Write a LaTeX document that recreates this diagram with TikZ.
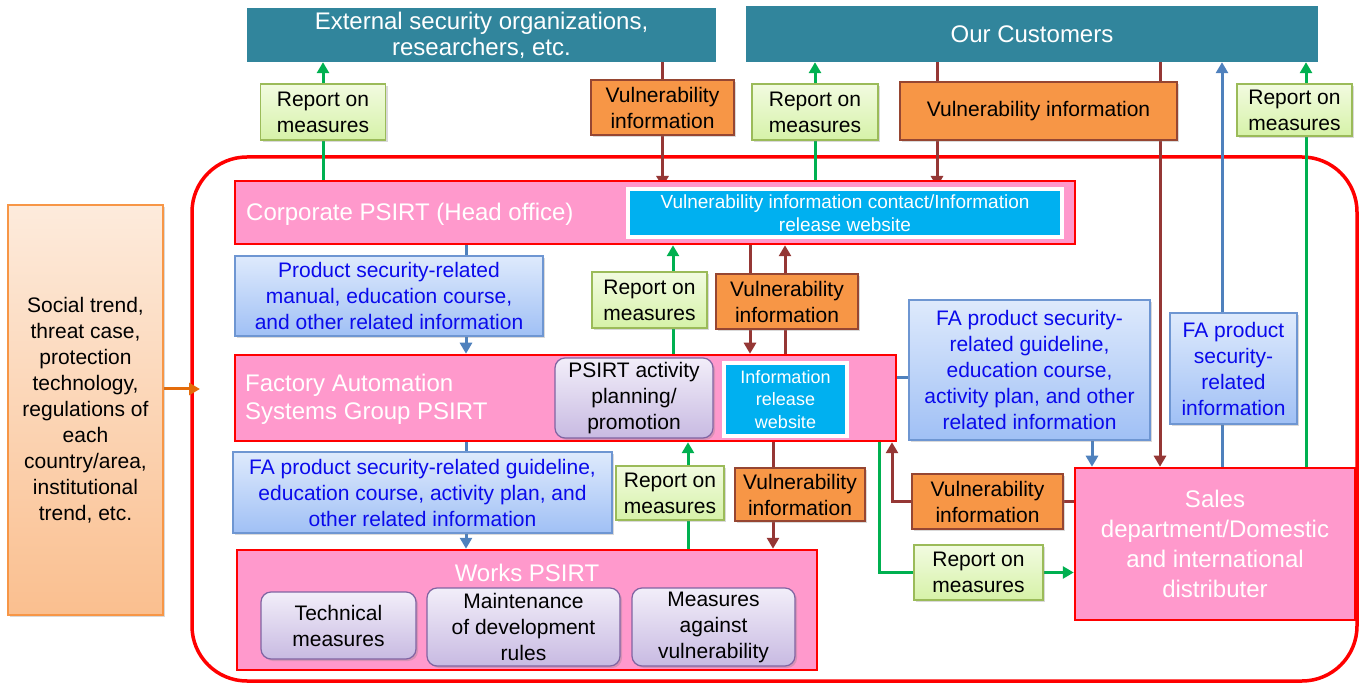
\documentclass[tikz,border=0pt]{standalone}
\usepackage{fontspec}
\setmainfont{Liberation Sans}
\usepackage{xcolor}
\usetikzlibrary{arrows.meta,backgrounds,shadows}

\definecolor{headteal}{RGB}{49,133,156}
\definecolor{psirtpink}{RGB}{255,153,204}
\definecolor{vulorange}{RGB}{247,150,70}
\definecolor{vulborder}{RGB}{150,70,50}
\definecolor{repT}{RGB}{242,251,224}
\definecolor{repB}{RGB}{214,242,168}
\definecolor{repborder}{RGB}{155,187,89}
\definecolor{infoT}{RGB}{222,234,252}
\definecolor{infoB}{RGB}{160,192,245}
\definecolor{infoborder}{RGB}{110,150,210}
\definecolor{infotext}{RGB}{10,10,235}
\definecolor{actT}{RGB}{242,238,249}
\definecolor{actB}{RGB}{200,186,226}
\definecolor{actborder}{RGB}{128,100,162}
\definecolor{webblue}{RGB}{0,176,240}
\definecolor{arrgreen}{RGB}{0,176,80}
\definecolor{arrbrown}{RGB}{149,55,53}
\definecolor{arrblue}{RGB}{79,129,189}
\definecolor{arrorange}{RGB}{228,108,10}
\definecolor{socT}{RGB}{253,235,220}
\definecolor{socB}{RGB}{250,191,143}
\definecolor{socborder}{RGB}{247,150,70}

\begin{document}
\begin{tikzpicture}[x=1pt,y=-1pt,>={Triangle[width=12pt,length=11pt]},
    every node/.style={inner sep=0pt,align=center},
    head/.style={fill=headteal,text=white,font=\fontsize{24}{26}\selectfont},
    psirt/.style={fill=psirtpink,draw=red,line width=2.5pt},
    title/.style={text=white,font=\fontsize{24}{28}\selectfont},
    shade/.style={drop shadow={shadow xshift=2pt,shadow yshift=-2pt,opacity=0.3}},
    rep/.style={shade,draw=repborder,line width=1.2pt,top color=repT,bottom color=repB,font=\fontsize{21}{26}\selectfont},
    vul/.style={shade,draw=vulborder,line width=1.2pt,fill=vulorange,font=\fontsize{21}{26}\selectfont},
    info/.style={shade,draw=infoborder,line width=1.2pt,top color=infoT,bottom color=infoB,text=infotext,font=\fontsize{21}{26}\selectfont},
    act/.style={shade,draw=actborder,line width=1.2pt,rounded corners=10pt,top color=actT,bottom color=actB,font=\fontsize{21}{26}\selectfont},
    web/.style={draw=white,line width=4pt,fill=webblue,text=white,font=\fontsize{19}{23}\selectfont},
    garrow/.style={->,draw=arrgreen,line width=3pt},
    barrow/.style={->,draw=arrbrown,line width=3pt},
    larrow/.style={->,draw=arrblue,line width=3pt}]
    \useasboundingbox (0,0) rectangle (1366,684);

    \node[head,minimum width=469pt,minimum height=54pt] (ext) at (481.5,35) {External security organizations,\\researchers, etc.};
    \node[head,minimum width=572pt,minimum height=56pt] (cust) at (1032,34) {Our Customers};

    \node[rep,minimum width=125pt,minimum height=56pt] (rep1) at (323,112) {Report on\\measures};
    \node[vul,minimum width=143pt,minimum height=55pt] (vul1) at (662.5,107.5) {Vulnerability\\information};
    \node[rep,minimum width=126pt,minimum height=56pt] (rep2) at (815,112) {Report on\\measures};
    \node[vul,minimum width=277pt,minimum height=58pt] (vul2) at (1038.5,111) {Vulnerability information};
    \node[rep,minimum width=115pt,minimum height=52pt] (rep3) at (1294.5,110) {Report on\\measures};

    \node[psirt,minimum width=840pt,minimum height=63pt] (corp) at (655,212.5) {};
    \node[title,anchor=west] (corptit) at (246,214) {Corporate PSIRT (Head office)};
    \node[web,minimum width=434pt,minimum height=48pt] (web) at (845,213) {Vulnerability information contact/Information\\release website};

    \node[info,minimum width=308pt,minimum height=80pt] (info1) at (389,296) {Product security-related\\manual, education course,\\and other related information};
    \node[rep,minimum width=115pt,minimum height=56pt] (rep4) at (649.5,300) {Report on\\measures};
    \node[vul,minimum width=142pt,minimum height=55pt] (vul3) at (787,301.5) {Vulnerability\\information};

    \node[psirt,minimum width=661pt,minimum height=86pt] (fa) at (565.5,398) {};
    \node[title,anchor=west,align=left] (fatit) at (245,399) {Factory Automation\\Systems Group PSIRT};
    \node[act,minimum width=158pt,minimum height=80pt] (plan) at (634,398) {PSIRT activity\\planning/\\promotion};
    \node[web,minimum width=123pt,minimum height=73pt,font=\fontsize{18}{22.5}\selectfont] (web2) at (785.5,399.5) {Information\\release\\website};

    \node[info,minimum width=241pt,minimum height=140pt] (info2) at (1029.5,370) {FA product security-\\related guideline,\\education course,\\activity plan, and other\\related information};
    \node[info,minimum width=127pt,minimum height=111pt] (info3) at (1233.5,368.5) {FA product\\security-\\related\\information};

    \node[info,minimum width=379pt,minimum height=81pt] (info4) at (422.5,492.5) {FA product security-related guideline,\\education course, activity plan, and\\other related information};
    \node[rep,minimum width=108pt,minimum height=54pt] (rep5) at (670,493) {Report on\\measures};
    \node[vul,minimum width=130pt,minimum height=53pt] (vul4) at (800,494.5) {Vulnerability\\information};

    \node[psirt,minimum width=580pt,minimum height=120pt] (works) at (527,610) {};
    \node[title] (worktit) at (527,573) {Works PSIRT};
    \node[act,minimum width=155pt,minimum height=67pt] (tech) at (338.5,625.5) {Technical\\measures};
    \node[act,minimum width=193pt,minimum height=78pt] (maint) at (523.5,627) {Maintenance\\of development\\rules};
    \node[act,minimum width=163pt,minimum height=78pt] (meas) at (713.5,627) {Measures\\against\\vulnerability};

    \node[psirt,minimum width=280pt,minimum height=152pt,text=white,font=\fontsize{24}{30}\selectfont] (sales) at (1215,544) {Sales\\department/Domestic\\and international\\distributer};
    \node[vul,minimum width=151pt,minimum height=55pt] (vul5) at (987.5,501.5) {Vulnerability\\information};
    \node[rep,minimum width=129pt,minimum height=55pt] (rep6) at (978.5,572.5) {Report on\\measures};

    \node[draw=socborder,line width=1.2pt,top color=socT,bottom color=socB,shade,minimum width=155pt,minimum height=410pt,font=\fontsize{21}{26}\selectfont] (soc) at (85.5,410) {Social trend,\\threat case,\\protection\\technology,\\regulations of\\each\\country/area,\\institutional\\trend, etc.};

    \coordinate (custweb) at (937,0);
    \coordinate (custsales) at (1160,0);
    \coordinate (salesinfo) at (1222,0);
    \coordinate (salesrep) at (1306,0);
    \coordinate (corpfa) at (466,0);
    \coordinate (farep) at (673,0);
    \coordinate (corpvul) at (750,0);
    \coordinate (favul) at (785,0);
    \coordinate (worksrep) at (688,0);
    \coordinate (worksvul) at (773,0);
    \coordinate (infosales) at (1092,0);
    \coordinate (salesvul) at (892,0);
    \coordinate (salesgreen) at (879,0);
    \coordinate (fastub) at (0,378);
    \coordinate (socin) at (200,389);

    \begin{scope}[on background layer]
        \draw[red,line width=3.5pt,rounded corners=55pt] (192,157) rectangle (1357,681);
        \draw[garrow] (corp.north -| rep1) -- (ext.south -| rep1);
        \draw[barrow] (ext.south -| vul1) -- (web.north -| vul1);
        \draw[garrow] (web.north -| rep2) -- (cust.south -| rep2);
        \draw[barrow] (cust.south -| custweb) -- (web.north -| custweb);
        \draw[barrow] (cust.south -| custsales) -- (sales.north -| custsales);
        \draw[larrow] (sales.north -| salesinfo) -- (cust.south -| salesinfo);
        \draw[garrow] (sales.north -| salesrep) -- (cust.south -| salesrep);
        \draw[larrow] (corp.south -| corpfa) -- (fa.north -| corpfa);
        \draw[garrow] (fa.north -| farep) -- (corp.south -| farep);
        \draw[barrow] (corp.south -| corpvul) -- (fa.north -| corpvul);
        \draw[barrow] (fa.north -| favul) -- (corp.south -| favul);
        \draw[arrblue,line width=3pt] (fa.east |- fastub) -- (info2.west |- fastub);
        \draw[larrow] (info2.south -| infosales) -- (sales.north -| infosales);
        \draw[larrow] (fa.south -| corpfa) -- (works.north -| corpfa);
        \draw[garrow] (works.north -| worksrep) -- (fa.south -| worksrep);
        \draw[barrow] (fa.south -| worksvul) -- (works.north -| worksvul);
        \draw[barrow] (sales.west |- vul5) -| (fa.south -| salesvul);
        \draw[garrow] (fa.south -| salesgreen) |- (sales.west |- rep6);
        \draw[->,draw=arrorange,line width=3pt] (soc.east |- socin) -- (socin);
    \end{scope}
\end{tikzpicture}
\end{document}
